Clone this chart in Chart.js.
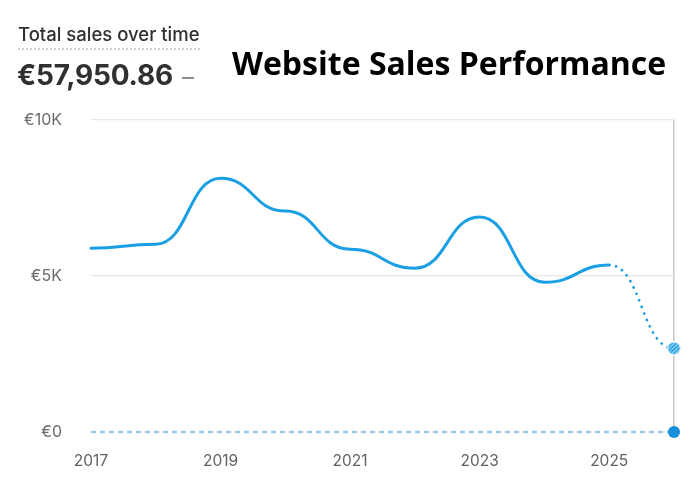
<!DOCTYPE html>
<html>
<head>
<meta charset="utf-8">
<script src="https://cdn.jsdelivr.net/npm/chart.js@4.4.1/dist/chart.umd.min.js"></script>
<style>
  html, body { margin: 0; padding: 0; background: #ffffff; }
  #wrap { position: relative; width: 700px; height: 487px; overflow: hidden; }
  #chart { position: absolute; left: 0; top: 0; }
  .sub { position: absolute; left: 18px; top: 23px; font-family: Inter, sans-serif; font-size: 18.5px; font-weight: 500; color: #303030;
         border-bottom: 2px dotted #cfcfcf; padding-bottom: 2px; line-height: 23px; }
  .total { position: absolute; left: 17px; top: 57px; font-family: Inter, sans-serif; font-size: 28px; font-weight: 700; color: #303030; line-height: 36px; letter-spacing: -0.2px; }
  .total span { color: #8a8a8a; font-weight: 400; margin-left: 9px; font-size: 24px; }
  .title { position: absolute; left: 232px; top: 43px; font-family: "Open Sans", sans-serif; font-size: 32px; font-weight: 700; color: #000000; line-height: 40px; }
</style>
</head>
<body>
<div id="wrap">
  <canvas id="chart" width="700" height="487"></canvas>
  <div class="sub">Total sales over time</div>
  <div class="total">€57,950.86<span>–</span></div>
  <div class="title">Website Sales Performance</div>
</div>
<script>
// ---- data ----
const years = ['2017', '2018', '2019', '2020', '2021', '2022', '2023', '2024', '2025', '2026'];
const sales = [5890, 6020, 8130, 7080, 5860, 5250, 6890, 4800, 5350, 2680.86];
const previousPeriod = [0, 0, 0, 0, 0, 0, 0, 0, 0, 0];
const yTicks = [0, 5000, 10000];
const yTickLabels = ['€0', '€5K', '€10K'];

const lastIndex = years.length - 1;

// hatched marker for the incomplete last period
function makeHatch() {
  const c = document.createElement('canvas');
  const s = 15;
  c.width = s; c.height = s;
  const g = c.getContext('2d');
  g.beginPath();
  g.arc(s / 2, s / 2, s / 2, 0, Math.PI * 2);
  g.fillStyle = '#ffffff';
  g.fill();
  g.save();
  g.beginPath();
  g.arc(s / 2, s / 2, s / 2 - 1.5, 0, Math.PI * 2);
  g.clip();
  g.strokeStyle = '#1a9fe4';
  g.lineWidth = 2;
  for (let k = -s; k < 2 * s; k += 4) {
    g.beginPath();
    g.moveTo(k, s);
    g.lineTo(k + s, 0);
    g.stroke();
  }
  g.restore();
  return c;
}
const hatch = makeHatch();

// horizontal-tangent (bump) curve between points, applied to the main line
const bumpPlugin = {
  id: 'bumpX',
  beforeDatasetDraw(chart, args) {
    if (args.index !== 0) return;
    const meta = args.meta;
    const line = meta.dataset;
    const pts = meta.data;
    if (line.updateControlPoints) line.updateControlPoints(chart.chartArea, 'x');
    for (let i = 0; i < pts.length; i++) {
      const p = pts[i], prev = pts[i - 1], next = pts[i + 1];
      p.cp1x = prev ? (prev.x + p.x) / 2 : p.x; p.cp1y = p.y;
      p.cp2x = next ? (p.x + next.x) / 2 : p.x; p.cp2y = p.y;
    }
    line._path = undefined;
  }
};

new Chart(document.getElementById('chart'), {
  type: 'line',
  data: {
    labels: years,
    datasets: [
      {
        label: 'Sales',
        data: sales,
        borderColor: '#1a9fe4',
        borderWidth: 3,
        borderCapStyle: 'round',
        tension: 0.4,
        fill: false,
        clip: 10,
        pointRadius: ctx => ctx.dataIndex === lastIndex ? 7 : 0,
        pointStyle: ctx => ctx.dataIndex === lastIndex ? hatch : 'circle',
        segment: {
          borderDash: ctx => ctx.p1DataIndex === lastIndex ? [0, 7] : undefined,
          borderWidth: ctx => ctx.p1DataIndex === lastIndex ? 2.8 : undefined
        },
        order: 1
      },
      {
        label: 'Previous period',
        data: previousPeriod,
        borderColor: '#9ccbe8',
        borderWidth: 2.5,
        borderDash: [5, 4],
        tension: 0,
        fill: false,
        clip: 10,
        pointRadius: ctx => ctx.dataIndex === lastIndex ? 6 : 0,
        pointBackgroundColor: '#1590d9',
        pointBorderColor: '#1590d9',
        pointBorderWidth: 0,
        order: 2
      }
    ]
  },
  options: {
    responsive: false,
    animation: false,
    devicePixelRatio: 1,
    layout: { padding: { left: 0, top: 120, right: 26, bottom: 0 } },
    plugins: { legend: { display: false }, tooltip: { enabled: false }, title: { display: false } },
    scales: {
      x: {
        offset: false,
        grid: {
          drawTicks: false,
          color: ctx => ctx.index === lastIndex ? '#c8c8c8' : 'rgba(0,0,0,0)',
          lineWidth: 1.5
        },
        border: { display: false },
        ticks: {
          autoSkip: false,
          maxRotation: 0,
          padding: 20,
          color: '#616161',
          font: { family: 'Inter', size: 15.5 },
          callback: (v, i) => i % 2 === 0 ? years[i] : ''
        },
        afterFit: s => { s.height = 55; }
      },
      y: {
        min: yTicks[0],
        max: yTicks[yTicks.length - 1],
        afterBuildTicks: s => { s.ticks = yTicks.map(v => ({ value: v })); },
        grid: {
          drawTicks: false,
          color: ctx => ctx.tick && ctx.tick.value === 0 ? 'rgba(0,0,0,0)' : '#e8e8e8',
          lineWidth: 1.2
        },
        border: { display: false },
        ticks: {
          padding: 29,
          color: '#6b6b6b',
          font: { family: 'Inter', size: 16 },
          callback: v => yTickLabels[yTicks.indexOf(v)]
        },
        afterFit: s => { s.width = 91; }
      }
    }
  },
  plugins: [bumpPlugin]
});
</script>
</body>
</html>
